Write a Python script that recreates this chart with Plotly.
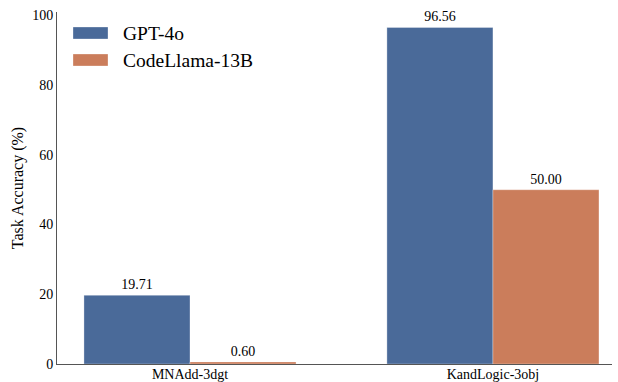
import plotly.graph_objects as go

categories = ["MNAdd-3dgt", "KandLogic-3obj"]
gpt4o = [19.71, 96.56]
codellama = [0.60, 50.00]
series_names = ["GPT-4o", "CodeLlama-13B"]
y_ticks = [0, 20, 40, 60, 80, 100]

blue = "#4a6a99"
orange = "#cb7d5b"
font_family = "Liberation Serif, Times New Roman, serif"

fig = go.Figure()
for name, vals, col in [(series_names[0], gpt4o, blue), (series_names[1], codellama, orange)]:
    fig.add_trace(go.Bar(
        x=categories, y=vals, name=name,
        marker=dict(color=col, line=dict(color="rgba(255,255,255,0.5)", width=0.6)),
        text=[f"{v:.2f}" for v in vals], textposition="outside",
        textfont=dict(size=14, color="black", family=font_family),
        cliponaxis=False, showlegend=False,
    ))

# legend drawn as swatches + labels (matplotlib-style wide patches)
legend_rows = [(series_names[0], blue, 33), (series_names[1], orange, 60)]
for name, col, ypx in legend_rows:
    fig.add_shape(type="rect", xref="paper", yref="paper",
                  x0=(73 - 57) / 555, x1=(108 - 57) / 555,
                  y0=(382 - 18 - (ypx + 6)) / 352, y1=(382 - 18 - (ypx - 6)) / 352,
                  fillcolor=col, line=dict(color="rgba(255,255,255,0.5)", width=0.6))
    fig.add_annotation(xref="paper", yref="paper", x=(121 - 57) / 555,
                       y=(382 - 18 - ypx) / 352, text=name, showarrow=False,
                       xanchor="left", yanchor="middle",
                       font=dict(size=19.5, family=font_family, color="black"))

fig.update_layout(
    width=618, height=382,
    margin=dict(l=57, r=6, t=12, b=18, autoexpand=False),
    paper_bgcolor="white", plot_bgcolor="white",
    barmode="group", bargap=0.3, bargroupgap=0,
    font=dict(family=font_family, size=14, color="black"),
    showlegend=False,
    xaxis=dict(range=[-0.439, 1.393], showline=True, linecolor="#555", linewidth=1,
               ticks="", showgrid=False, tickfont=dict(size=14), automargin=False,
               ticklabelstandoff=-3),
    yaxis=dict(range=[0, 101], tickvals=y_ticks, showline=True, linecolor="#555", linewidth=1,
               ticks="", showgrid=False, zeroline=False, tickfont=dict(size=14), automargin=False,
               title=dict(text="Task Accuracy (%)", font=dict(size=16), standoff=4)),
)

fig.write_html("out.html", config={"displayModeBar": False},
               post_script="document.body.style.margin='0';document.body.style.overflow='hidden';")
